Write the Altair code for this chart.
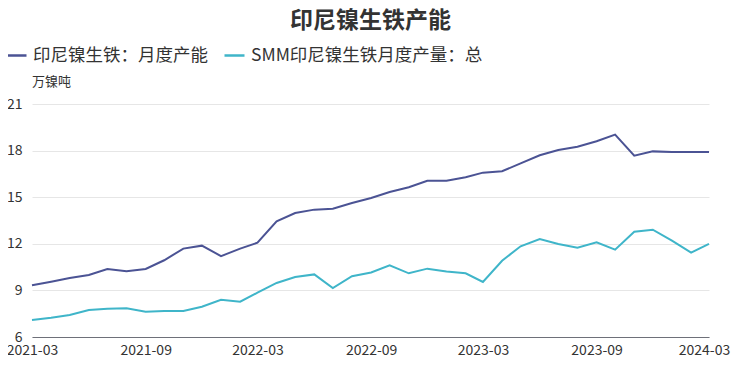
import altair as alt
import pandas as pd

months = pd.date_range("2021-03-01", "2024-03-01", freq="MS").strftime("%Y-%m-%d").tolist()

capacity = [9.33, 9.56, 9.80, 9.99, 10.38, 10.23, 10.38, 10.94, 11.69, 11.88, 11.21, 11.69,
            12.07, 13.45, 13.98, 14.20, 14.26, 14.63, 14.95, 15.33, 15.64, 16.06, 16.06, 16.28,
            16.58, 16.67, 17.18, 17.70, 18.04, 18.25, 18.60, 19.03, 17.67, 17.95, 17.91, 17.91,
            17.91]
output = [7.09, 7.24, 7.42, 7.74, 7.82, 7.85, 7.63, 7.67, 7.67, 7.95, 8.40, 8.27,
          8.85, 9.48, 9.86, 10.03, 9.15, 9.91, 10.15, 10.61, 10.10, 10.40, 10.21, 10.10,
          9.54, 10.91, 11.84, 12.31, 11.99, 11.75, 12.09, 11.62, 12.78, 12.91, 12.20, 11.43,
          11.99]

series_names = ["印尼镍生铁：月度产能", "SMM印尼镍生铁月度产量：总"]
series_colors = ["#4b5394", "#3fb5c9"]
x_ticks = ["2021-03-01", "2021-09-01", "2022-03-01", "2022-09-01", "2023-03-01", "2023-09-01", "2024-03-01"]
y_ticks = [6, 9, 12, 15, 18, 21]
title_text = "印尼镍生铁产能"
unit_text = "万镍吨"

FONT = "Noto Sans CJK SC"

df = pd.DataFrame({
    "month": months * 2,
    "value": capacity + output,
    "series": [series_names[0]] * len(months) + [series_names[1]] * len(months),
})

x_values = [alt.DateTime(year=int(d[:4]), month=int(d[5:7]), date=1) for d in x_ticks]

lines = alt.Chart(df).mark_line(strokeWidth=2).encode(
    x=alt.X("month:T",
            scale=alt.Scale(domain=[alt.DateTime(year=2021, month=3, date=1),
                                    alt.DateTime(year=2024, month=3, date=1)], nice=False),
            axis=alt.Axis(values=x_values, format="%Y-%m", title=None, grid=False,
                          ticks=False, domainColor="#6e7079", labelColor="#333333",
                          labelFont=FONT, labelFontSize=14, labelPadding=6,
                          labelOffset={"condition": {"test": "datum.value > time(datetime(2024, 0, 15))",
                                                     "value": -5}, "value": 0},
                          labelOverlap=False, labelBound=False, labelFlush=False)),
    y=alt.Y("value:Q",
            scale=alt.Scale(domain=[6, 21], nice=False, zero=False),
            axis=alt.Axis(values=y_ticks, title=None, domain=False, ticks=False,
                          gridColor="#e6e6e6", labelColor="#333333", labelFont=FONT,
                          labelFontSize=14, labelPadding=10)),
    color=alt.Color("series:N",
                    scale=alt.Scale(domain=series_names, range=series_colors),
                    legend=alt.Legend(title=None, orient="none", direction="horizontal",
                                      legendX=-27, legendY=-60, symbolType="stroke",
                                      symbolSize=400, symbolStrokeWidth=2.5,
                                      labelFont=FONT, labelFontSize=17.5, labelColor="#333333",
                                      labelLimit=0, columnPadding=11, labelOffset=5)),
)

title_df = pd.DataFrame({"t": [title_text]})
title = alt.Chart(title_df).mark_text(font=FONT, fontSize=23, fontWeight="bold",
                                       color="#333333", align="center", baseline="middle").encode(
    text="t:N", x=alt.value(338.5), y=alt.value(-83))

unit_df = pd.DataFrame({"t": [unit_text]})
unit = alt.Chart(unit_df).mark_text(font=FONT, fontSize=13, color="#333333",
                                     align="left", baseline="middle").encode(
    text="t:N", x=alt.value(0), y=alt.value(-22))

chart = alt.layer(lines, title, unit).properties(
    width=677, height=233,
    autosize=alt.AutoSizeParams(type="none"),
    padding={"left": 24, "top": 96, "right": 23, "bottom": 22},
).configure_view(stroke=None)

chart.save("out.html", embed_options={"renderer": "svg", "actions": False})
